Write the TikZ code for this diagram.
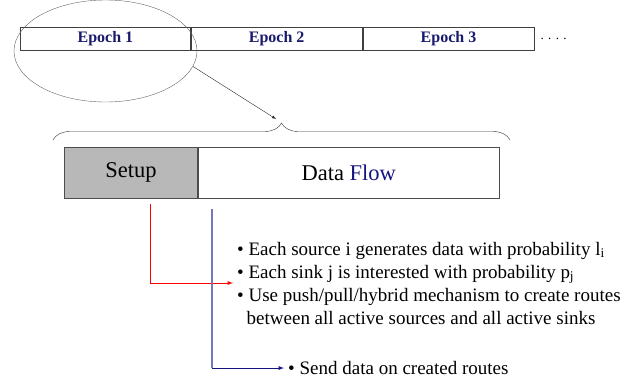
\documentclass[tikz,border=0pt]{standalone}
\usepackage{fontspec}
\setmainfont{Liberation Serif}
\usetikzlibrary{arrows,positioning,shapes.geometric,decorations.pathreplacing}
\definecolor{epochblue}{RGB}{25,25,110}
\definecolor{flowblue}{RGB}{20,20,128}
\definecolor{paleblue}{RGB}{120,120,185}
\definecolor{setupgray}{RGB}{184,184,184}
\newcommand{\epochcell}[3]{\node[epoch] (#1) [right=0pt of #2] {#3}; }

\begin{document}
\begin{tikzpicture}[x=1pt,y=-1pt,>=latex,
  epoch/.style={draw=black!75,line width=0.8pt,minimum width=171pt,minimum height=23pt,inner sep=0pt,
    text=epochblue,font=\rmfamily\fontsize{16}{17}\selectfont\bfseries},
  phase/.style={draw=black!70,line width=0.8pt,minimum height=51pt,inner sep=0pt,font=\rmfamily\fontsize{22.5}{24}\selectfont},
  bullets/.style={align=left,inner sep=4pt,font=\rmfamily\fontsize{19}{23}\selectfont}]
  \useasboundingbox (0,0) rectangle (636,383);
  % epochs
  \node[epoch,minimum width=170pt,anchor=north west] (e1) at (20,27) {Epoch 1};
  \epochcell{e2}{e1}{Epoch 2}
  \epochcell{e3}{e2}{Epoch 3}
  \node[right=6pt of e3,inner sep=0pt,font=\fontsize{13}{14}\selectfont] (dots) {.\,\,.\,\,.\,\,.};
  \node[ellipse,draw=black!60,minimum width=183pt,minimum height=102pt,inner sep=0pt] (ell) at (105.5,51) {};
  % one epoch
  \draw[black!80,decorate,decoration={brace,amplitude=17pt}] (53,140) -- (510,140);
  \coordinate (tip) at (276,119);
  \draw[->,black!85] (ell.-10) -- (tip);
  \node[phase,fill=setupgray,minimum width=133pt,anchor=north west] (setup) at (64,147) {Setup};
  \node[phase,minimum width=301pt] (flow) [right=0pt of setup] {Data \textcolor{flowblue}{Flow}};
  % what happens in each phase
  \node[bullets,anchor=west] (bul) at (233,283) {%
    \textbullet\ Each source i generates data with probability l\textsubscript{i}\\
    \textbullet\ Each sink j is interested with probability p\textsubscript{j}\\
    \textbullet\ Use push/pull/hybrid mechanism to create routes\\
    \ \ between all active sources and all active sinks};
  \node[bullets,anchor=west] (send) at (284,368) {\textbullet\ Send data on created routes};
  \coordinate (sr) at (150.7,204);
  \coordinate (sb) at (212,209);
  \coordinate (corner) at (sb |- send.west);
  \draw[->,red,line width=0.9pt] (sr) |- (bul.west);
  \draw[paleblue,line width=1.2pt] (sb) -- (corner);
  \draw[->,flowblue,line width=0.9pt] (corner) -- (send.west);
\end{tikzpicture}
\end{document}
